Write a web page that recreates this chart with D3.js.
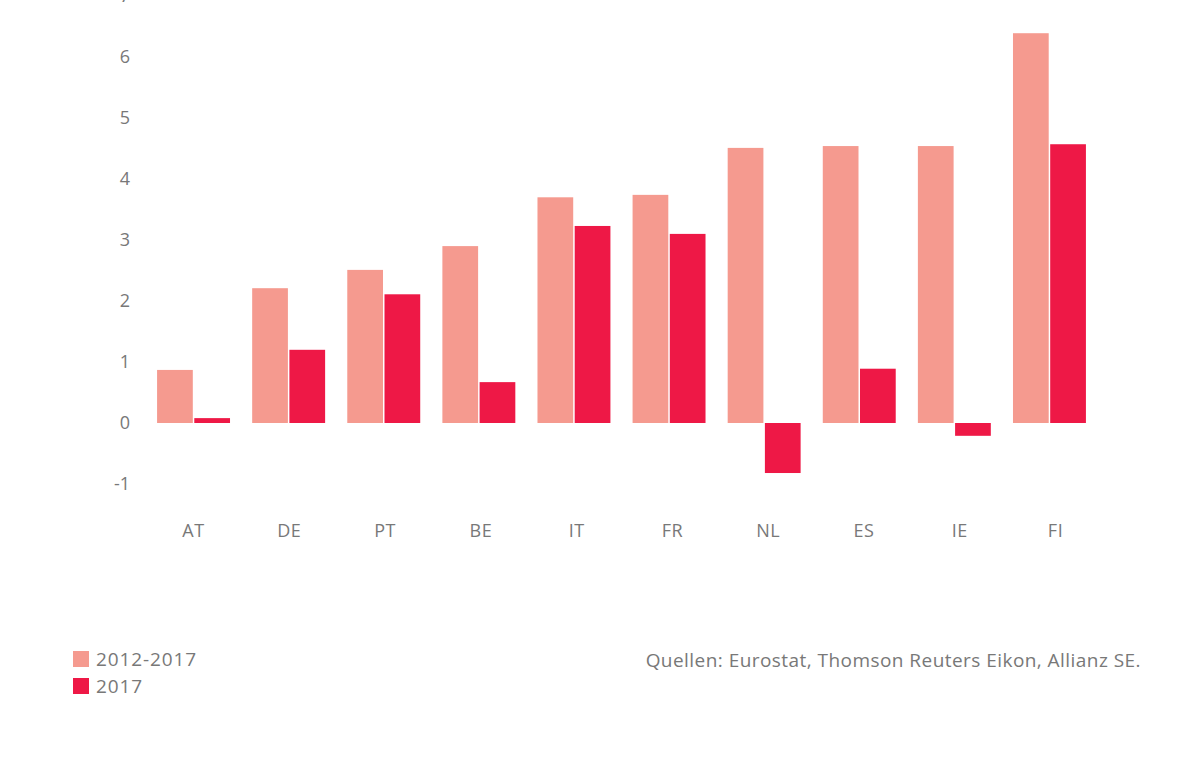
<!DOCTYPE html>
<html>
<head>
<meta charset="utf-8">
<script src="https://cdn.jsdelivr.net/npm/d3@7"></script>
<style>
  html, body { margin: 0; padding: 0; background: #fff; }
  svg { display: block; font-family: "Open Sans", Lato, sans-serif; }
</style>
</head>
<body>
<svg id="chart" width="1200" height="761"></svg>
<script>
const categories = ["AT", "DE", "PT", "BE", "IT", "FR", "NL", "ES", "IE", "FI"];
const seriesNames = ["2012-2017", "2017"];
const values2012_2017 = [0.87, 2.21, 2.51, 2.90, 3.70, 3.74, 4.51, 4.54, 4.54, 6.39];
const values2017 = [0.08, 1.20, 2.11, 0.67, 3.23, 3.10, -0.82, 0.89, -0.21, 4.57];
const yTicks = [-1, 0, 1, 2, 3, 4, 5, 6, 7];
const sourceText = "Quellen: Eurostat, Thomson Reuters Eikon, Allianz SE.";
const colors = ["#f59a8f", "#ee1846"];
const textColor = "#787878";
const fontFam = "'Open Sans', Lato, sans-serif";

const svg = d3.select("#chart");
const y = d3.scaleLinear().domain([-1, 6]).range([484, 57]);
const x = d3.scaleBand().domain(categories).range([146, 1097])
  .paddingInner(0.233).paddingOuter(0.1165);
const xs = d3.scaleBand().domain(seriesNames).range([0, x.bandwidth()]).paddingInner(0.04);
// category labels sit on a slightly wider spacing than the bars in the reference
const xLabel = d3.scalePoint().domain(categories).range([193, 1055]);

const data = categories.map((c, i) => ({ cat: c, vals: [values2012_2017[i], values2017[i]] }));

// Y axis labels
const yAxis = d3.axisLeft(y).tickValues(yTicks).tickSize(0).tickPadding(0).tickFormat(d => String(d));
const ga = svg.append("g").attr("transform", "translate(130,0)").call(yAxis);
ga.select(".domain").remove();
ga.selectAll("text").attr("fill", textColor).style("font-size", "18px").style("font-family", fontFam);

// X axis labels
const xAxis = d3.axisBottom(xLabel).tickSize(0).tickPadding(0);
const gx = svg.append("g").attr("transform", "translate(0,524)").call(xAxis);
gx.select(".domain").remove();
gx.selectAll("text").attr("fill", textColor).style("font-size", "18px")
  .style("letter-spacing", "0.5px").style("font-family", fontFam);

// Bars
const groups = svg.append("g").selectAll("g").data(data).join("g")
  .attr("transform", d => `translate(${x(d.cat)},0)`);
groups.selectAll("rect").data(d => d.vals.map((v, j) => ({ v, s: seriesNames[j], j })))
  .join("rect")
  .attr("x", d => xs(d.s))
  .attr("width", xs.bandwidth())
  .attr("y", d => y(Math.max(0, d.v)))
  .attr("height", d => Math.abs(y(d.v) - y(0)))
  .attr("fill", d => colors[d.j]);

// Legend
const lg = svg.append("g").attr("transform", "translate(73,651)");
seriesNames.forEach((s, i) => {
  lg.append("rect").attr("x", 0).attr("y", i * 27).attr("width", 16).attr("height", 16).attr("fill", colors[i]);
  lg.append("text").attr("x", 23).attr("y", i * 27 + 15).text(s)
    .attr("fill", textColor).style("font-size", "19px").style("letter-spacing", "0.9px")
    .style("font-family", fontFam);
});

// Source
svg.append("text").attr("x", 1141).attr("y", 667).attr("text-anchor", "end")
  .text(sourceText).attr("fill", textColor).style("font-size", "19px")
  .style("letter-spacing", "0.45px").style("font-family", fontFam);
</script>
</body>
</html>
